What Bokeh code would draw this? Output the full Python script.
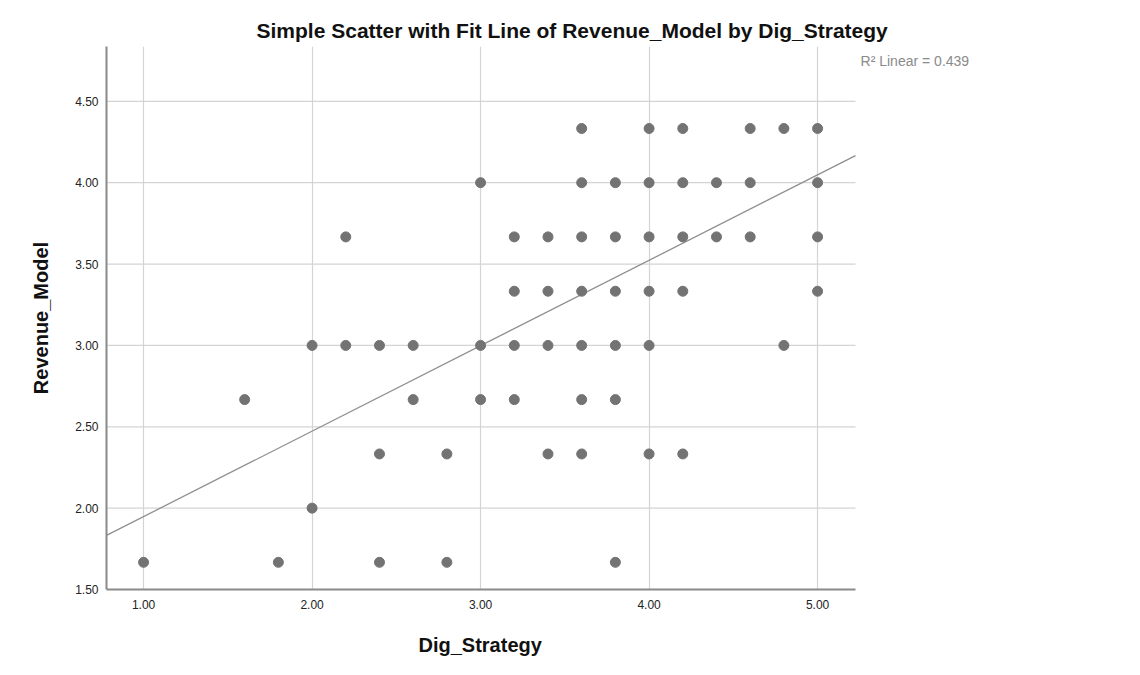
from bokeh.plotting import figure
from bokeh.models import Range1d, FixedTicker, NumeralTickFormatter, Label, ColumnDataSource, Title
from bokeh.embed import file_html
from bokeh.resources import INLINE

# Observations (Dig_Strategy, Revenue_Model)
dig_strategy = [
    3.6, 4.0, 4.2, 4.6, 4.8, 5.0,
    3.0, 3.6, 3.8, 4.0, 4.2, 4.4, 4.6, 5.0,
    2.2, 3.2, 3.4, 3.6, 3.8, 4.0, 4.2, 4.4, 4.6, 5.0,
    3.2, 3.4, 3.6, 3.8, 4.0, 4.2, 5.0,
    2.0, 2.2, 2.4, 2.6, 3.0, 3.2, 3.4, 3.6, 3.8, 4.0, 4.8,
    1.6, 2.6, 3.0, 3.2, 3.6, 3.8,
    2.4, 2.8, 3.4, 3.6, 4.0, 4.2,
    2.0,
    1.0, 1.8, 2.4, 2.8, 3.8,
]
revenue_model = (
    [4.333] * 6
    + [4.0] * 8
    + [3.667] * 10
    + [3.333] * 7
    + [3.0] * 11
    + [2.667] * 6
    + [2.333] * 6
    + [2.0] * 1
    + [1.667] * 5
)

# Linear fit
fit_intercept = 1.423
fit_slope = 0.525
r_squared = 0.439

x_ticks = [1.0, 2.0, 3.0, 4.0, 5.0]
y_ticks = [1.5, 2.0, 2.5, 3.0, 3.5, 4.0, 4.5]

# chart area in data units; the frame runs further right to hold the R² note
x_lo, x_hi = 0.78, 5.225
y_lo, y_hi = 1.5, 4.837
x_frame_hi = 6.857

p = figure(
    width=1140, height=675,
    x_range=Range1d(x_lo, x_frame_hi), y_range=Range1d(y_lo, y_hi),
    output_backend="svg", toolbar_location=None,
    min_border_left=106, min_border_right=10,
    min_border_top=46, min_border_bottom=86,
    title="Simple Scatter with Fit Line of Revenue_Model by Dig_Strategy",
)
p.outline_line_color = None
p.background_fill_color = "white"
p.border_fill_color = "white"

p.title.text_font = "Liberation Sans"
p.title.text_font_style = "bold"
p.title.text_font_size = "21px"
p.title.text_color = "#111111"
p.title.align = "left"
p.title.offset = 150

# vertical grid lines span the full height
p.xgrid.ticker = FixedTicker(ticks=x_ticks)
p.xgrid.grid_line_color = "#d4d4d4"
p.xgrid.grid_line_width = 1.2
p.xgrid.bounds = (x_lo, x_hi)

# horizontal grid lines stop at the chart's right edge
p.ygrid.visible = False
h_levels = y_ticks[1:]
p.segment(x0=[x_lo] * len(h_levels), x1=[x_hi] * len(h_levels),
          y0=h_levels, y1=h_levels, line_color="#d4d4d4", line_width=1.2,
          level="underlay")

# axes
for ax in (p.xaxis, p.yaxis):
    ax.axis_line_color = "#8a8a8a"
    ax.axis_line_width = 2
    ax.major_tick_line_color = None
    ax.minor_tick_line_color = None
    ax.major_tick_out = 0
    ax.major_tick_in = 0
    ax.formatter = NumeralTickFormatter(format="0.00")
    ax.major_label_text_font = "Liberation Sans"
    ax.major_label_text_font_size = "12px"
    ax.major_label_text_color = "#222222"
    ax.axis_label_text_font = "Liberation Sans"
    ax.axis_label_text_font_style = "bold"
    ax.axis_label_text_font_size = "20px"
    ax.axis_label_text_color = "#111111"

p.xaxis.ticker = FixedTicker(ticks=x_ticks)
p.yaxis.ticker = FixedTicker(ticks=y_ticks)
p.xaxis.bounds = (x_lo, x_hi)
p.yaxis.axis_label = "Revenue_Model"
p.xaxis.major_label_standoff = 10
p.yaxis.major_label_standoff = 8
p.yaxis.axis_label_standoff = 20

# x-axis caption, centred under the chart area rather than the whole frame
x_caption = Title(
    text="Dig_Strategy", align="left", offset=312, standoff=40,
    text_font="Liberation Sans", text_font_style="bold",
    text_font_size="20px", text_color="#111111",
)
p.add_layout(x_caption, "below")

# fit line across the chart's x range
fit_x = [x_lo, x_hi]
fit_y = [fit_intercept + fit_slope * v for v in fit_x]
p.line(fit_x, fit_y, line_color="#8f8f8f", line_width=1.3)

src = ColumnDataSource(data=dict(x=dig_strategy, y=revenue_model))
p.scatter("x", "y", source=src, size=10, fill_color="#737373", line_color="#737373")

r2 = Label(
    x=5.255, y=4.75,
    text=f"R\u00b2 Linear = {r_squared:.3f}",
    text_font="Liberation Sans", text_font_size="14px",
    text_align="left", text_baseline="middle", text_color="#8a8a8a",
)
p.add_layout(r2)

open("out.html", "w").write(file_html(p, INLINE))
